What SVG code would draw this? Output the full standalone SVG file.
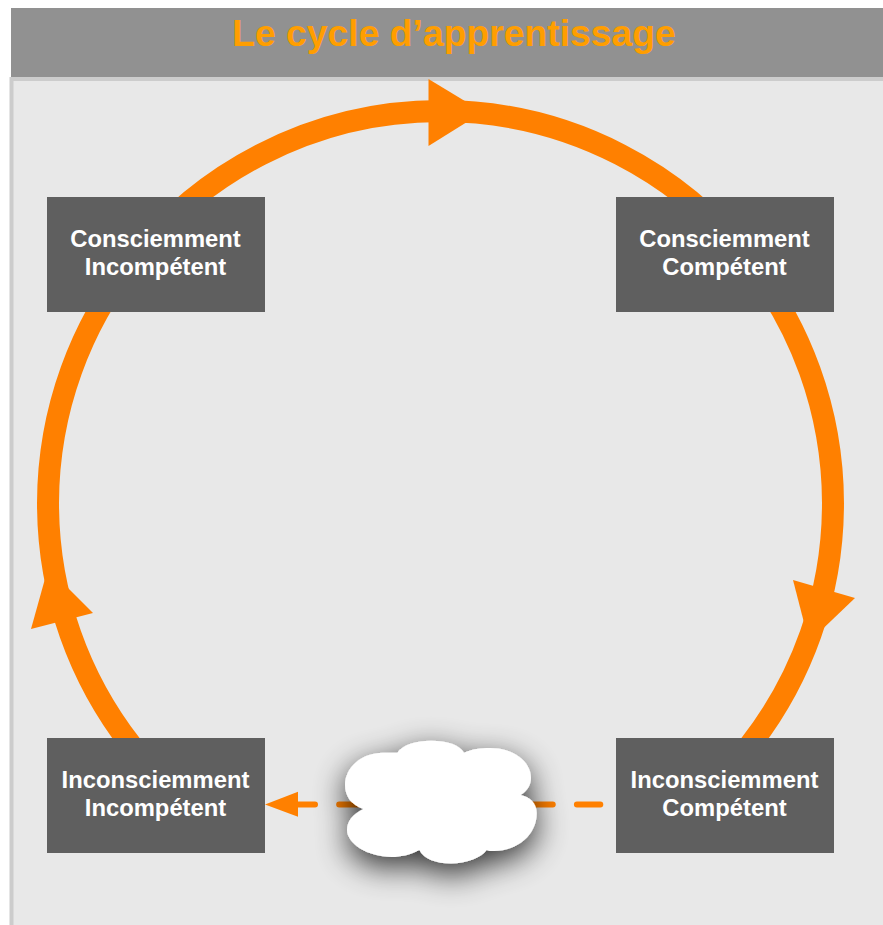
<svg xmlns="http://www.w3.org/2000/svg" width="883" height="925" viewBox="0 0 883 925">
  <style>
    .node { fill: #5f5f5f; }
    .label { fill: #ffffff; font-family: "Liberation Sans", Arial, sans-serif; font-weight: bold; font-size: 23.8px; text-anchor: middle; }
    .title { fill: #ff9e00; font-family: "Liberation Sans", Arial, sans-serif; font-weight: bold; font-size: 37.3px; text-anchor: middle; }
    .arc { fill: none; stroke: #ff8000; stroke-width: 22; }
    .dash { fill: none; stroke: #ff8000; stroke-width: 6; stroke-linecap: round; stroke-dasharray: 23.4 24.15; }
    .head { fill: #ff8000; }
  </style>
  <defs>
    <filter id="cloudShadow" x="-40%" y="-60%" width="180%" height="240%">
      <feGaussianBlur in="SourceAlpha" stdDeviation="16"/>
      <feOffset dx="0" dy="10"/>
      <feComponentTransfer><feFuncA type="linear" slope="0.8"/></feComponentTransfer>
      <feMerge><feMergeNode/><feMergeNode in="SourceGraphic"/></feMerge>
    </filter>
  </defs>
  <rect width="883" height="925" fill="#ffffff"/>
  <g id="panel">
    <rect x="11.500" y="79" width="880" height="860" fill="#e8e8e8" stroke="#cccccc" stroke-width="4"/>
  </g>
  <g id="header">
    <rect x="11" y="8" width="872" height="69" fill="#919191"/>
    <text class="title" x="454" y="46">Le cycle d’apprentissage</text>
  </g>
  <g id="connectors">
    <path class="arc" d="M132.700 260 A392.5 392.5 0 0 1 748.300 260"/>
    <path class="arc" d="M748.300 260 A392.5 392.5 0 0 1 749.900 745"/>
    <path class="arc" d="M131.100 745 A392.5 392.5 0 0 1 132.700 260"/>
    <polygon class="head" points="428.500,79 428.500,146 483,112"/>
    <polygon class="head" points="793,580 855,598 809,642"/>
    <polygon class="head" points="31,629 93,613 48,568"/>
    <path class="dash" d="M600.300 804.500 H298"/>
    <polygon class="head" points="265,804.500 298,791.700 298,816.700"/>
  </g>
  <g id="node-ci">
    <rect class="node" x="47" y="197" width="218" height="115"/>
    <text class="label" x="155.500" y="247">Consciemment</text>
    <text class="label" x="155.500" y="275">Incompétent</text>
  </g>
  <g id="node-cc">
    <rect class="node" x="616" y="197" width="218" height="115"/>
    <text class="label" x="724.500" y="247">Consciemment</text>
    <text class="label" x="724.500" y="275">Compétent</text>
  </g>
  <g id="node-ii">
    <rect class="node" x="47" y="738" width="218" height="115"/>
    <text class="label" x="155.500" y="788">Inconsciemment</text>
    <text class="label" x="155.500" y="816">Incompétent</text>
  </g>
  <g id="node-ic">
    <rect class="node" x="616" y="738" width="218" height="115"/>
    <text class="label" x="724.500" y="788">Inconsciemment</text>
    <text class="label" x="724.500" y="816">Compétent</text>
  </g>
  <g id="cloud">
    <path fill="#ffffff" filter="url(#cloudShadow)" d="M397.300 752.700 C402 745 416 740.700 431 740.700 C447 740.700 460 745 464 752.700 C472 749 481 748 490 748 C513 748 531 761 531 778 C531 785 527 791 520.700 795 C530 797 536.700 803 536.700 813 C537 834 518 851 494 851 C491 851 488 851 486.700 850 C481 858 466 863.500 451 863.500 C436 863.500 424 859 419.300 850 C410 855 400 857 392 857 C367 857 347 843 347 830 C347 821 353 814 363.300 809 C351 805 345 796 345 785 C345 767 362 752.700 383 752.700 C388 752.700 393 752.700 397.300 752.700 Z"/>
  </g>
</svg>
